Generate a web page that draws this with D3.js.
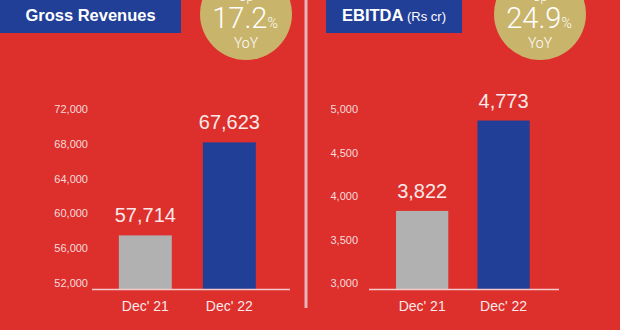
<!DOCTYPE html>
<html><head><meta charset="utf-8">
<script src="https://cdn.jsdelivr.net/npm/d3@7"></script>
<style>
html,body{margin:0;padding:0;background:#dd2f2c;}
svg{display:block;font-family:Arial,"Liberation Sans",Helvetica,sans-serif;}
</style></head>
<body>
<script>
const categories = ["Dec' 21", "Dec' 22"];
const revenueValues = [57714, 67623];
const revenueTicks = [52000, 56000, 60000, 64000, 68000, 72000];
const ebitdaValues = [3822, 4773];
const ebitdaTicks = [3000, 3500, 4000, 4500, 5000];
const growthLabels = ["17.2", "24.9"];
const titles = ["Gross Revenues", "EBITDA"];

const W = 620, H = 330;
const svg = d3.select("body").append("svg").attr("width", W).attr("height", H);
svg.append("rect").attr("width", W).attr("height", H).attr("fill", "#dd2f2c");

const BLUE = "#223f98", GREY = "#b1b1b1", GOLD = "#c9b46b", TXT = "#f7dcdc";
const fmt = d3.format(",");

// divider
svg.append("line").attr("x1", 306).attr("x2", 306).attr("y1", 0).attr("y2", 308)
  .attr("stroke", "#eab4bb").attr("stroke-width", 3);

function panel(cfg) {
  const g = svg.append("g");
  // title box
  g.append("rect").attr("x", cfg.boxX).attr("y", 0).attr("width", cfg.boxW).attr("height", 33).attr("fill", BLUE);
  const t = g.append("text").attr("x", cfg.boxX + cfg.boxW / 2).attr("y", 20.5).attr("text-anchor", "middle")
    .attr("fill", "#fff");
  t.append("tspan").attr("font-weight", "bold").attr("font-size", 16.5).text(cfg.title);
  if (cfg.sub) t.append("tspan").attr("font-size", 13).text(" " + cfg.sub);

  // circle
  g.append("circle").attr("cx", cfg.cx).attr("cy", 14).attr("r", 46).attr("fill", GOLD);
  g.append("text").attr("x", cfg.cx).attr("y", 1).attr("text-anchor", "middle").attr("fill", "#fff")
    .attr("font-size", 12).attr("font-family", "Roboto, Arial, sans-serif").attr("font-weight", 300).text("Up");
  const pt = g.append("text").attr("x", cfg.cx - 1).attr("y", 28).attr("text-anchor", "middle").attr("fill", "#fff")
    .attr("font-family", "Roboto, Arial, sans-serif").attr("font-weight", 300);
  pt.append("tspan").attr("font-size", 29).text(cfg.growth);
  pt.append("tspan").attr("font-size", 14).text("%");
  g.append("text").attr("x", cfg.cx).attr("y", 48).attr("text-anchor", "middle").attr("fill", "#fff")
    .attr("font-family", "Roboto, Arial, sans-serif").attr("font-weight", 300).attr("font-size", 14).text("YoY");

  // scales
  const x = d3.scaleBand().domain(categories).range([cfg.x0, cfg.x1])
    .paddingInner(cfg.pin).paddingOuter(cfg.pout).align(cfg.align);
  const y = d3.scaleLinear().domain(cfg.domain).range([289, cfg.top]);
  const yAxisScale = d3.scaleLinear().domain(cfg.domain).range([283, 109]);

  const ax = g.append("g").attr("transform", `translate(${cfg.axX},0)`)
    .call(d3.axisLeft(yAxisScale).tickValues(cfg.ticks).tickFormat(fmt).tickSize(0).tickPadding(0));
  ax.select(".domain").remove();
  ax.selectAll("text").attr("fill", TXT).attr("font-size", 11).attr("font-family", "Arial, 'Liberation Sans', sans-serif");

  g.selectAll("rect.bar").data(cfg.values).join("rect").attr("class", "bar")
    .attr("x", (d, i) => x(categories[i])).attr("width", x.bandwidth())
    .attr("y", d => y(d)).attr("height", d => y(cfg.domain[0]) - y(d))
    .attr("fill", (d, i) => i === 0 ? GREY : BLUE);

  g.append("line").attr("x1", cfg.x0).attr("x2", cfg.x1).attr("y1", 289.5).attr("y2", 289.5)
    .attr("stroke", "#f4c9c9").attr("stroke-width", 1.5);

  g.selectAll("text.val").data(cfg.values).join("text").attr("class", "val")
    .attr("x", (d, i) => x(categories[i]) + x.bandwidth() / 2).attr("y", d => y(d) - 13)
    .attr("text-anchor", "middle").attr("fill", "#fbe9e9").attr("font-size", 20).text(d => fmt(d));

  const xa = g.append("g").attr("transform", "translate(0,289)")
    .call(d3.axisBottom(x).tickSize(0).tickPadding(12));
  xa.select(".domain").remove();
  xa.selectAll("text").attr("fill", "#fbe9e9").attr("font-size", 14).attr("font-family", "Arial, 'Liberation Sans', sans-serif");
}

panel({ boxX: 0, boxW: 181, title: titles[0], cx: 246, growth: growthLabels[0],
  x0: 92, x1: 290, pin: 0.37, pout: 0.363, align: 0.44, domain: [52000, 72000], top: 101.3,
  ticks: revenueTicks, values: revenueValues, axX: 88 });

panel({ boxX: 326, boxW: 136, title: titles[1], sub: "(Rs cr)", cx: 540, growth: growthLabels[1],
  x0: 369, x1: 559, pin: 0.358, pout: 0.346, align: 0.48, domain: [3000, 5000], top: 99,
  ticks: ebitdaTicks, values: ebitdaValues, axX: 358 });
</script>
</body></html>
